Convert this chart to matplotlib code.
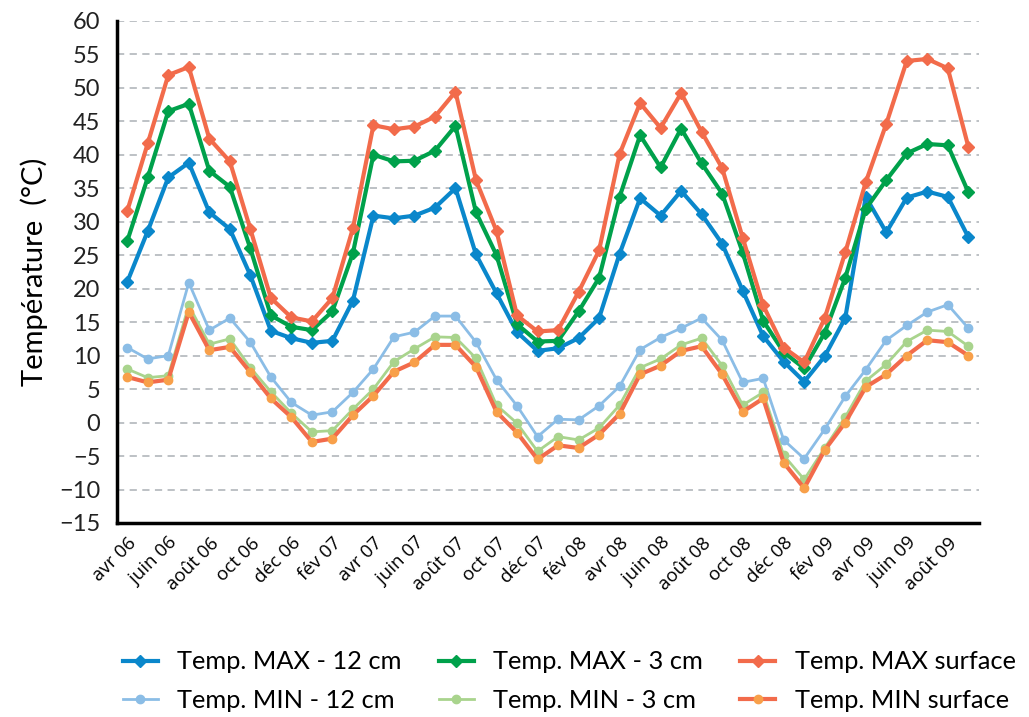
"""
Températures du sol : max / min à 12 cm, 3 cm et en surface
"""

import matplotlib
matplotlib.use("Agg")
import matplotlib.pyplot as plt

plt.rcParams["font.family"] = ["Lato", "DejaVu Sans"]

# mois avr 06 -> sept 09
months = ["avr 06", "mai 06", "juin 06", "juil 06", "août 06", "sept 06",
          "oct 06", "nov 06", "déc 06", "janv 07", "fév 07", "mars 07",
          "avr 07", "mai 07", "juin 07", "juil 07", "août 07", "sept 07",
          "oct 07", "nov 07", "déc 07", "janv 08", "fév 08", "mars 08",
          "avr 08", "mai 08", "juin 08", "juil 08", "août 08", "sept 08",
          "oct 08", "nov 08", "déc 08", "janv 09", "fév 09", "mars 09",
          "avr 09", "mai 09", "juin 09", "juil 09", "août 09", "sept 09"]

max_12 = [21.0, 28.6, 36.6, 38.8, 31.4, 28.9, 22.0, 13.7, 12.6, 11.9, 12.2, 18.2,
          30.9, 30.5, 30.9, 32.1, 35.0, 25.1, 19.3, 13.5, 10.7, 11.1, 12.6, 15.6,
          25.2, 33.5, 30.9, 34.6, 31.1, 26.7, 19.7, 12.9, 9.1, 6.1, 9.9, 15.6,
          33.7, 28.4, 33.6, 34.5, 33.7, 27.7]
max_3 = [27.1, 36.6, 46.5, 47.6, 37.6, 35.2, 26.0, 16.0, 14.3, 13.8, 16.6, 25.3,
         40.0, 39.0, 39.1, 40.6, 44.3, 31.4, 25.0, 14.7, 12.1, 12.2, 16.6, 21.6,
         33.7, 42.9, 38.1, 43.9, 38.7, 34.2, 25.4, 15.2, 10.5, 8.1, 13.4, 21.6,
         31.9, 36.2, 40.2, 41.6, 41.4, 34.4]
max_surf = [31.6, 41.7, 51.9, 53.1, 42.4, 39.0, 28.9, 18.6, 15.7, 15.1, 18.6, 29.0,
            44.4, 43.8, 44.2, 45.7, 49.4, 36.2, 28.6, 16.0, 13.6, 13.8, 19.5, 25.7,
            40.1, 47.7, 44.0, 49.2, 43.4, 38.0, 27.6, 17.5, 11.2, 9.0, 15.6, 25.4,
            35.9, 44.6, 54.0, 54.3, 52.9, 41.2]
min_12 = [11.2, 9.5, 10.0, 20.9, 13.8, 15.6, 12.0, 6.8, 3.0, 1.1, 1.6, 4.5,
          8.0, 12.8, 13.5, 15.9, 15.9, 12.0, 6.4, 2.5, -2.1, 0.5, 0.4, 2.5,
          5.4, 10.9, 12.7, 14.1, 15.6, 12.3, 6.0, 6.6, -2.6, -5.4, -1.0, 3.9,
          7.9, 12.3, 14.5, 16.5, 17.6, 14.1]
min_3 = [8.0, 6.7, 7.0, 17.5, 11.7, 12.5, 8.2, 4.6, 1.4, -1.4, -1.2, 2.0,
         5.0, 9.1, 11.0, 12.8, 12.7, 9.6, 2.6, -0.1, -4.3, -2.1, -2.6, -0.8,
         2.6, 8.2, 9.5, 11.6, 12.6, 8.5, 2.6, 4.5, -4.9, -8.5, -3.8, 0.8,
         6.2, 8.7, 12.1, 13.8, 13.6, 11.4]
min_surf = [6.8, 6.0, 6.4, 16.5, 10.8, 11.3, 7.5, 3.6, 0.8, -2.9, -2.4, 1.1,
            4.0, 7.6, 9.0, 11.6, 11.6, 8.3, 1.6, -1.5, -5.5, -3.4, -3.8, -1.8,
            1.3, 7.2, 8.5, 10.7, 11.4, 7.2, 1.6, 3.6, -6.0, -9.8, -4.1, 0.0,
            5.3, 7.2, 10.0, 12.3, 12.0, 10.0]

BLUE = "#0A87CB"
GREEN = "#00A14B"
RED = "#F26B4B"
LBLUE = "#8BBDE6"
LGREEN = "#A9D48D"
ORANGE = "#F8A04A"

fig = plt.figure(figsize=(10.29, 7.17), dpi=100)
ax = fig.add_axes([0.1137, 0.2706, 0.8373, 0.7004])

x = range(len(months))

ax.plot(x, max_12, color=BLUE, lw=3, marker="D", ms=6, label="Temp. MAX - 12 cm", zorder=4)
ax.plot(x, min_12, color=LBLUE, lw=2, marker="o", ms=6, label="Temp. MIN - 12 cm", zorder=3)
ax.plot(x, max_3, color=GREEN, lw=3, marker="D", ms=6, label="Temp. MAX - 3 cm", zorder=4)
ax.plot(x, min_3, color=LGREEN, lw=2, marker="o", ms=6, label="Temp. MIN - 3 cm", zorder=3)
ax.plot(x, max_surf, color=RED, lw=3, marker="D", ms=6, label="Temp. MAX surface", zorder=4)
ax.plot(x, min_surf, color=RED, lw=3, marker="o", ms=6, mfc=ORANGE, mec=ORANGE,
        label="Temp. MIN surface", zorder=3)

ax.set_xlim(-0.5, len(months) - 0.5)
ax.set_ylim(-15, 60)
ax.set_yticks(range(-15, 61, 5))
ax.tick_params(axis="y", labelsize=17, length=0, pad=12, colors="#222222")
ax.set_xticks(list(x)[::2])
ax.set_xticklabels(months[::2], rotation=45, ha="right", rotation_mode="anchor",
                   fontsize=13.5, family=["Open Sans", "DejaVu Sans"])
ax.tick_params(axis="x", length=0, pad=8)

ax.grid(axis="y", color="#B8BCC0", ls=(0, (4, 3)), lw=1.3)
ax.set_axisbelow(True)
for s in ["top", "right"]:
    ax.spines[s].set_visible(False)
for s in ["left", "bottom"]:
    ax.spines[s].set_linewidth(2.5)
    ax.spines[s].set_color("black")

ax.set_ylabel("Température  (°C)", fontsize=21, labelpad=8)

fig.legend(loc="upper center", bbox_to_anchor=(0.553, 0.107), ncol=3, frameon=False,
           fontsize=18.3, handlelength=1.4, handletextpad=0.75, columnspacing=1.45,
           labelspacing=0.6, borderaxespad=0)

fig.savefig("out.png", dpi=100)
plt.close(fig)
